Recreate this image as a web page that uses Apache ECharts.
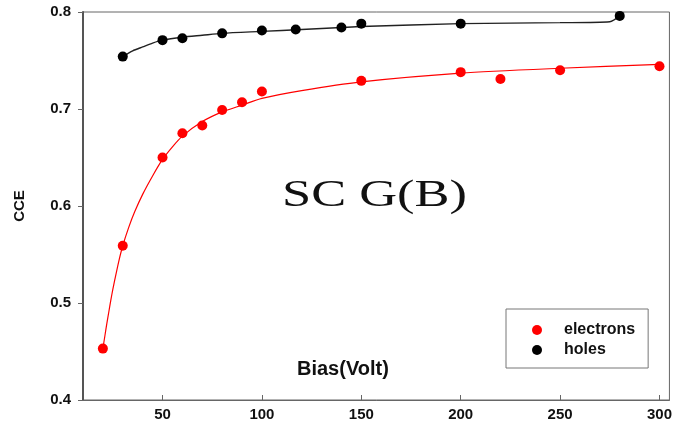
<!DOCTYPE html>
<html>
<head>
<meta charset="utf-8">
<script src="https://cdn.jsdelivr.net/npm/echarts@6/dist/echarts.min.js"></script>
<style>
html,body{margin:0;padding:0;background:#fff;}
#chart{width:675px;height:427px;}
</style>
</head>
<body>
<div id="chart"></div>
<script>
// ---- data ----
const elecBias = [20, 30, 50, 60, 70, 80, 90, 100, 150, 200, 220, 250, 300];
const elecCCE  = [0.453, 0.559, 0.650, 0.675, 0.683, 0.699, 0.707, 0.718, 0.729, 0.738, 0.731, 0.740, 0.744];
const holeBias = [30, 50, 60, 80, 100, 117, 140, 150, 200, 280];
const holeCCE  = [0.754, 0.771, 0.773, 0.778, 0.781, 0.782, 0.784, 0.788, 0.788, 0.796];
// fitted curves
const elecFitBias = [20, 21, 22, 23, 24, 25, 26, 28, 30, 33, 36, 40, 45, 50, 55, 60, 70, 80, 90, 100, 120, 150, 200, 250, 300];
const elecFitCCE  = [0.453, 0.466, 0.479, 0.491, 0.503, 0.514, 0.524, 0.543, 0.559, 0.578, 0.594, 0.612, 0.631, 0.648, 0.661, 0.672, 0.687, 0.697, 0.704, 0.711, 0.719, 0.728, 0.737, 0.742, 0.746];
const holeFitBias = [30, 35, 40, 45, 50, 60, 70, 80, 100, 120, 140, 150, 200, 250, 275, 280];
const holeFitCCE  = [0.754, 0.760, 0.764, 0.768, 0.771, 0.774, 0.776, 0.778, 0.780, 0.782, 0.784, 0.785, 0.788, 0.789, 0.790, 0.796];
const xTicks = [50, 100, 150, 200, 250, 300];
const yTicks = [0.4, 0.5, 0.6, 0.7, 0.8];
const seriesNames = ['electrons', 'holes'];
const xName = 'Bias(Volt)';
const yName = 'CCE';
const annotation = 'SC G(B)';

const zip = (a, b) => a.map((v, i) => [v, b[i]]);

const chart = echarts.init(document.getElementById('chart'), null, {renderer: 'canvas'});
chart.setOption({
  animation: false,
  backgroundColor: '#ffffff',
  grid: {left: 83, right: 2, top: 12, bottom: 27, show: true, borderColor: '#666', borderWidth: 1},
  xAxis: {
    type: 'value', min: 10, max: 305,
    splitLine: {show: false},
    axisLine: {show: true, lineStyle: {color: '#666', width: 1}},
    axisTick: {show: true, inside: true, length: 5, lineStyle: {color: '#666'}, customValues: xTicks},
    axisLabel: {customValues: xTicks, color: '#111', fontFamily: 'Liberation Sans', fontWeight: 'bold', fontSize: 15, margin: 7}
  },
  yAxis: {
    type: 'value', min: 0.4, max: 0.8,
    name: yName, nameLocation: 'middle', nameGap: 56, nameRotate: 90,
    nameTextStyle: {color: '#111', fontFamily: 'Liberation Sans', fontWeight: 'bold', fontSize: 15},
    splitLine: {show: false},
    axisLine: {show: true, lineStyle: {color: '#555', width: 2}},
    axisTick: {show: true, inside: false, length: 5, lineStyle: {color: '#666'}, customValues: yTicks},
    axisLabel: {customValues: yTicks, color: '#111', fontFamily: 'Liberation Sans', fontWeight: 'bold', fontSize: 15, margin: 12,
      formatter: v => v.toFixed(1)}
  },
  legend: {
    data: seriesNames,
    orient: 'vertical',
    left: 506, top: 309,
    icon: 'circle', itemWidth: 10, itemHeight: 10, itemGap: 4,
    padding: [13, 13, 10, 26],
    borderColor: '#777', borderWidth: 1, backgroundColor: '#fff',
    itemStyle: {opacity: 1},
    textStyle: {color: '#111', fontFamily: 'Liberation Sans', fontWeight: 'bold', fontSize: 16, lineHeight: 16, padding: [0, 0, 0, 17]}
  },
  graphic: [
    {type: 'text', x: 297, y: 369, style: {text: xName, fill: '#111', font: 'bold 20px "Liberation Sans"', textAlign: 'left', textVerticalAlign: 'middle'}},
    {type: 'text', x: 282, y: 196, scaleX: 1.38, style: {text: annotation, fill: '#111', font: '38px "Liberation Serif"', textAlign: 'left', textVerticalAlign: 'middle'}}
  ],
  series: [
    {name: 'electrons fit', type: 'line', data: zip(elecFitBias, elecFitCCE), smooth: 0.25, showSymbol: false, lineStyle: {color: '#ff0000', width: 1.2}, silent: true, z: 1},
    {name: 'holes fit', type: 'line', data: zip(holeFitBias, holeFitCCE), smooth: 0.25, showSymbol: false, lineStyle: {color: '#222', width: 1.4}, silent: true, z: 1},
    {name: 'electrons', type: 'scatter', data: zip(elecBias, elecCCE), symbol: 'circle', symbolSize: 10, itemStyle: {color: '#ff0000', opacity: 1}, z: 3},
    {name: 'holes', type: 'scatter', data: zip(holeBias, holeCCE), symbol: 'circle', symbolSize: 10, itemStyle: {color: '#000000', opacity: 1}, z: 3}
  ]
});
</script>
</body>
</html>
